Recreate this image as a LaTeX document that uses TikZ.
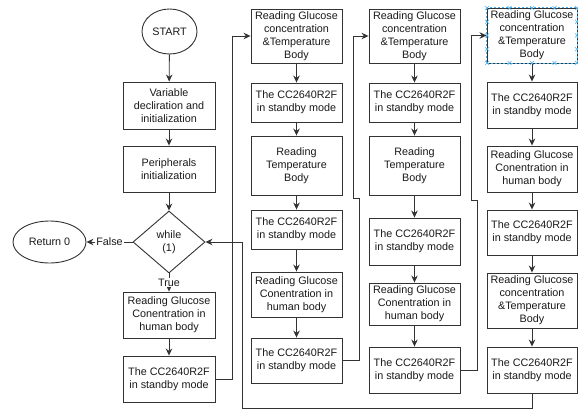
\documentclass[tikz,border=0pt]{standalone}
\usepackage{fontspec}
\setmainfont{Liberation Sans}
\usetikzlibrary{shapes.geometric,arrows.meta}
\definecolor{ln}{HTML}{333333}
\definecolor{tx}{HTML}{1A1A1A}
\definecolor{sel}{HTML}{4DB3F0}
\begin{document}
\begin{tikzpicture}[x=1pt,y=-1pt,
  every node/.style={font=\fontsize{10.8}{12.9}\selectfont, text=tx},
  box/.style={draw=ln, line width=0.9pt, fill=white, align=center, inner sep=0pt},
  oval/.style={ellipse, draw=ln, line width=0.9pt, fill=white, align=center, inner sep=0pt},
  dec/.style={diamond, draw=ln, line width=0.9pt, fill=white, align=center, inner sep=0pt},
  arr/.style={draw=ln, line width=0.9pt, -{Stealth[length=7pt,width=6.5pt]}},
  lbl/.style={fill=white, inner sep=1pt},
  selmark/.style={draw=sel, line width=0.6pt}]
\useasboundingbox (0,0) rectangle (578,410);
\fill[white] (0,0) rectangle (578,410);

% ---- column 1 ----
\node[oval, minimum width=55pt, minimum height=45pt] (start) at (169.5,31.5) {START};
\node[box, minimum width=92pt, minimum height=47pt] (var) at (169,105.5) {Variable\\decliration and\\initialization};
\node[box, minimum width=92pt, minimum height=46pt] (per) at (169,169) {Peripherals\\initialization};
\node[dec, minimum width=72pt, minimum height=62pt] (dia) at (169,242) {while\\(1)};
\node[oval, minimum width=73pt, minimum height=42pt] (ret) at (49.5,242) {Return 0};
\node[box, minimum width=92pt, minimum height=46pt] (r1) at (169,315) {Reading Glucose\\Conentration in\\human body};
\node[box, minimum width=92pt, minimum height=46pt] (cc1) at (169,379) {The CC2640R2F\\in standby mode};

% ---- column 2 ----
\node[box, minimum width=91pt, minimum height=54pt] (c2b1) at (296.5,36) {Reading Glucose\\concentration\\\&Temperature\\Body};
\node[box, minimum width=91pt, minimum height=39pt] (c2b2) at (296.5,102.5) {The CC2640R2F\\in standby mode};
\node[box, minimum width=91pt, minimum height=59pt] (c2b3) at (296.5,165.5) {Reading\\Temperature\\Body};
\node[box, minimum width=91pt, minimum height=39pt] (c2b4) at (296.5,229.5) {The CC2640R2F\\in standby mode};
\node[box, minimum width=91pt, minimum height=45pt] (c2b5) at (296.5,294.5) {Reading Glucose\\Conentration in\\human body};
\node[box, minimum width=91pt, minimum height=45pt] (c2b6) at (296.5,360.5) {The CC2640R2F\\in standby mode};

% ---- column 3 ----
\node[box, minimum width=91pt, minimum height=54pt] (c3b1) at (414.5,36) {Reading Glucose\\concentration\\\&Temperature\\Body};
\node[box, minimum width=91pt, minimum height=39pt] (c3b2) at (414.5,102.5) {The CC2640R2F\\in standby mode};
\node[box, minimum width=91pt, minimum height=59pt] (c3b3) at (414.5,165.5) {Reading\\Temperature\\Body};
\node[box, minimum width=91pt, minimum height=47pt] (c3b4) at (414.5,241.5) {The CC2640R2F\\in standby mode};
\node[box, minimum width=91pt, minimum height=42pt] (c3b5) at (414.5,304) {Reading Glucose\\Conentration in\\human body};
\node[box, minimum width=91pt, minimum height=46pt] (c3b6) at (414.5,370) {The CC2640R2F\\in standby mode};

% ---- column 4 ----
\node[box, minimum width=90pt, minimum height=55pt] (c4b1) at (532,35.5) {Reading Glucose\\concentration\\\&Temperature\\Body};
\node[box, minimum width=90pt, minimum height=46pt] (c4b2) at (532,105) {The CC2640R2F\\in standby mode};
\node[box, minimum width=90pt, minimum height=46pt] (c4b3) at (532,169) {Reading Glucose\\Conentration in\\human body};
\node[box, minimum width=90pt, minimum height=45pt] (c4b4) at (532,232.5) {The CC2640R2F\\in standby mode};
\node[box, minimum width=90pt, minimum height=55pt] (c4b5) at (532,300.5) {Reading Glucose\\concentration\\\&Temperature\\Body};
\node[box, minimum width=90pt, minimum height=46pt] (c4b6) at (532,370) {The CC2640R2F\\in standby mode};

% ---- jog points ----
\coordinate (a1) at (232,379);
\coordinate (j1) at (359,198);
\coordinate (j2) at (353,198);
\coordinate (j3) at (477,200);
\coordinate (j4) at (471,200);
\coordinate (k1) at (532,408.5);
\coordinate (k2) at (242,408.5);

% ---- connectors column 1 ----
\draw[arr] (start) -- (var);
\draw[arr] (var) -- (per);
\draw[arr] (per) -- (dia);
\draw[arr] (dia) -- node[lbl] {True} (r1);
\draw[arr] (dia) -- node[lbl] {False} (ret);
\draw[arr] (r1) -- (cc1);
\draw[arr] (cc1.east) -- (a1) |- (c2b1.west);

% ---- connectors column 2 ----
\draw[arr] (c2b1) -- (c2b2);
\draw[arr] (c2b2) -- (c2b3);
\draw[arr] (c2b3) -- (c2b4);
\draw[arr] (c2b4) -- (c2b5);
\draw[arr] (c2b5) -- (c2b6);
\draw[arr] (c2b6.east) -| (j1) -- (j2) |- (c3b1.west);

% ---- connectors column 3 ----
\draw[arr] (c3b1) -- (c3b2);
\draw[arr] (c3b2) -- (c3b3);
\draw[arr] (c3b3) -- (c3b4);
\draw[arr] (c3b4) -- (c3b5);
\draw[arr] (c3b5) -- (c3b6);
\draw[arr] (c3b6.east) -| (j3) -- (j4) |- (c4b1.west);

% ---- connectors column 4 ----
\draw[arr] (c4b1) -- (c4b2);
\draw[arr] (c4b2) -- (c4b3);
\draw[arr] (c4b3) -- (c4b4);
\draw[arr] (c4b4) -- (c4b5);
\draw[arr] (c4b5) -- (c4b6);
\draw[arr] (c4b6.south) -- (k1) -- (k2) |- (dia.east);

% ---- selection marks on the first box of column 4 ----
\draw[selmark, dash pattern=on 2pt off 2pt] (c4b1.north west) rectangle (c4b1.south east);
\foreach \xx/\yy in {487/8,509.5/8,532/8,554.5/8,577/8,
                     487/63,509.5/63,532/63,554.5/63,577/63,
                     487/21.75,487/35.5,487/49.25,
                     577/21.75,577/35.5,577/49.25}
  {\draw[selmark] (\xx-2,\yy-2) -- (\xx+2,\yy+2) (\xx-2,\yy+2) -- (\xx+2,\yy-2);}
\end{tikzpicture}
\end{document}
